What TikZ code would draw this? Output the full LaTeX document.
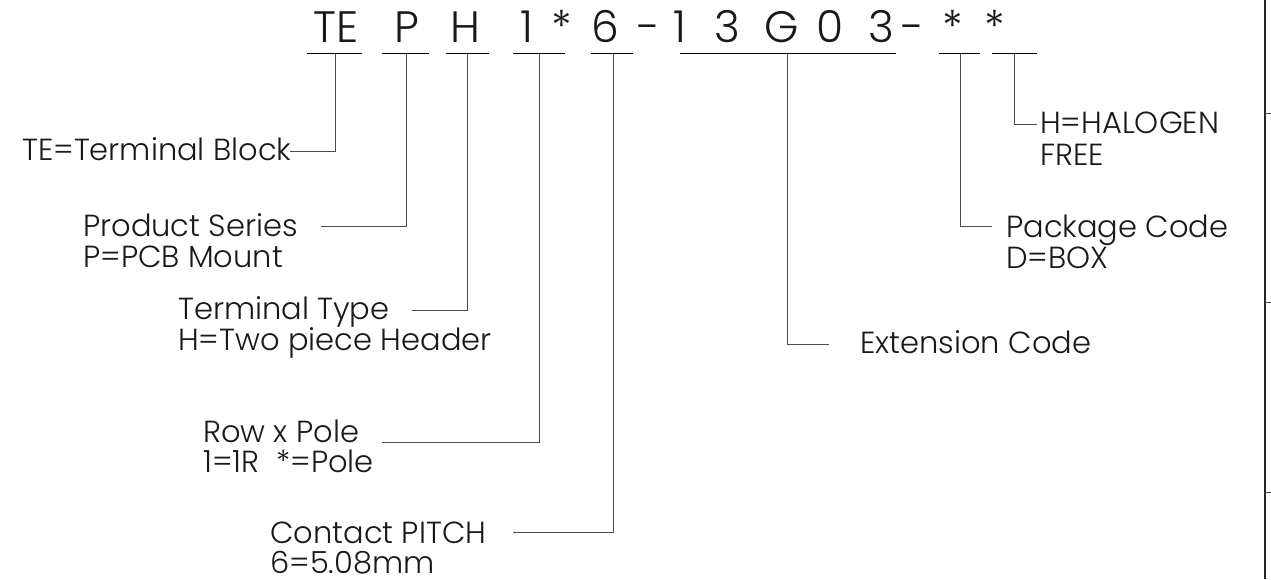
\documentclass[tikz,border=0pt]{standalone}
\usepackage{fontspec}
\setmainfont{Poppins}[UprightFont=* Light]
\begin{document}
\begin{tikzpicture}[x=1pt,y=-1pt,
  codech/.style={anchor=base,inner sep=0pt,font=\fontsize{44}{44}\selectfont,text=black!90},
  lbl/.style={anchor=base west,inner sep=0pt,font=\fontsize{30.5}{31}\selectfont,text=black!90},
  uline/.style={draw=black,line width=1pt},
  conn/.style={draw=black!70,line width=1pt},
  frame/.style={draw=black!85,line width=1.6pt}]
\useasboundingbox[fill=white] (0,0) rectangle (1271,579);
% code characters
\node[codech] (cTE) at (336,42) {TE};
\node[codech] (cP)  at (407,42) {P};
\node[codech] (cH)  at (465.5,42) {H};
\node[codech] (c1)  at (526.5,42) {1};
\node[codech] (cs1) at (561.5,42) {*};
\node[codech] (c6)  at (605.5,42) {6};
\node[codech] (cd1) at (649,42) {-};
\node[codech] (ce1) at (680,42) {1};
\node[codech] (ce2) at (727.5,42) {3};
\node[codech] (ce3) at (781.5,42) {G};
\node[codech] (ce4) at (830,42) {0};
\node[codech] (ce5) at (881,42) {3};
\node[codech] (cd2) at (912.5,42) {-};
\node[codech] (cs2) at (952.5,42) {*};
\node[codech] (cs3) at (994.5,42) {*};
% underlines
\draw[uline] (307,53) -- (362,53);
\draw[uline] (382,53) -- (429,53);
\draw[uline] (446,53) -- (489,53);
\draw[uline] (513,53) -- (565,53);
\draw[uline] (591,53) -- (633,53);
\draw[uline] (680,53) -- (896,53);
\draw[uline] (939,53) -- (980,53);
\draw[uline] (992,53) -- (1037,53);
% connector start points
\coordinate (uTE) at (335,54);
\coordinate (uP)  at (406,54);
\coordinate (uH)  at (467,54);
\coordinate (uRP) at (539,54);
\coordinate (u6)  at (613,54);
\coordinate (uEx) at (787,54);
\coordinate (uPk) at (960,54);
\coordinate (uHa) at (1014,54);
% connector end points
\coordinate (eTE) at (290,151);
\coordinate (eP)  at (321,226);
\coordinate (eH)  at (412,310);
\coordinate (eRP) at (382,442);
\coordinate (e6)  at (513,532);
\coordinate (eEx) at (829,344);
\coordinate (ePk) at (992,226);
\coordinate (eHa) at (1037,124);
% labels
\node[lbl] (lTE) at (22,160) {TE=Terminal Block};
\node[lbl] (lPa) at (83,236) {Product Series};
\node[lbl] (lPb) at (83,267) {P=PCB Mount};
\node[lbl] (lHa) at (178,319) {Terminal Type};
\node[lbl] (lHb) at (178,350) {H=Two piece Header};
\node[lbl] (lRa) at (203,442) {Row x Pole};
\node[lbl] (lRb) at (203,472) {1=1R~~*=Pole};
\node[lbl] (l6a) at (270,543) {Contact PITCH};
\node[lbl,text depth=0pt] (l6b) at (270,573) {6=5.08mm};
\node[lbl] (lEx) at (860,353) {Extension Code};
\node[lbl] (lPka) at (1006,237) {Package Code};
\node[lbl] (lPkb) at (1006,268) {D=BOX};
\node[lbl] (lHaa) at (1040,133) {H=HALOGEN};
\node[lbl] (lHab) at (1040,165) {FREE};
% connectors
\draw[conn] (uTE) |- (eTE);
\draw[conn] (uP)  |- (eP);
\draw[conn] (uH)  |- (eH);
\draw[conn] (uRP) |- (eRP);
\draw[conn] (u6)  |- (e6);
\draw[conn] (uEx) |- (eEx);
\draw[conn] (uPk) |- (ePk);
\draw[conn] (uHa) |- (eHa);
% right frame
\coordinate (fT) at (1265,0);
\coordinate (fB) at (1265,579);
\draw[frame] (fT) -- (fB);
\coordinate (t1) at (1271,113);
\coordinate (t2) at (1271,302);
\coordinate (t3) at (1271,492);
\draw[conn] (1265,113) -- (t1);
\draw[conn] (1265,302) -- (t2);
\draw[conn] (1265,492) -- (t3);
\end{tikzpicture}
\end{document}
